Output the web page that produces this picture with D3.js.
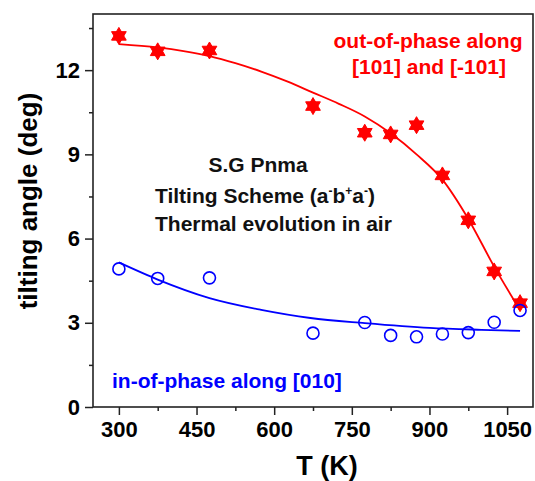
<!DOCTYPE html>
<html>
<head>
<meta charset="utf-8">
<script src="https://cdn.jsdelivr.net/npm/d3@7"></script>
<style>
  body { margin: 0; background: #fff; }
  svg { font-family: "Liberation Sans", Arial, sans-serif; font-weight: bold; }
</style>
</head>
<body>
<svg id="chart" width="535" height="481"></svg>
<script>
// measured points
var temps = [300, 375, 475, 675, 775, 825, 875, 925, 975, 1025, 1075];
var outPhase = [13.22, 12.67, 12.7, 10.72, 9.77, 9.71, 10.04, 8.25, 6.65, 4.83, 3.7];
var inPhase = [4.92, 4.58, 4.6, 2.63, 3.01, 2.55, 2.5, 2.6, 2.65, 3.02, 3.44];

// fit curves
var outFitT = [300, 375, 425, 475, 525, 575, 625, 675, 725, 775, 825, 875, 925, 975, 1025, 1075];
var outFitY = [12.93, 12.81, 12.68, 12.5, 12.25, 11.95, 11.6, 11.2, 10.8, 10.35, 9.75, 9.0, 8.1, 6.7, 5.0, 3.45];
var inFitT = [300, 375, 475, 575, 670, 775, 900, 1000, 1075];
var inFitY = [5.15, 4.54, 3.88, 3.46, 3.17, 2.99, 2.82, 2.75, 2.71];

var xTicks = [300, 450, 600, 750, 900, 1050];
var xMinor = [375, 525, 675, 825, 975];
var yTicks = [0, 3, 6, 9, 12];
var yMinor = [1.5, 4.5, 7.5, 10.5, 13.5];

var svg = d3.select('#chart');
var mLeft = 93, mRight = 533, mTop = 14, mBottom = 407;

var x = d3.scaleLinear().domain([250, 1100]).range([mLeft, mRight]);
var y = d3.scaleLinear().domain([0, 14]).range([mBottom, mTop]);

// axes
svg.append('g').attr('transform', 'translate(0,' + mBottom + ')')
   .call(d3.axisBottom(x).tickValues(xTicks).tickSize(8).tickPadding(6).tickFormat(d3.format('d')));
svg.append('g').attr('transform', 'translate(0,' + mBottom + ')')
   .call(d3.axisBottom(x).tickValues(xMinor).tickSize(4).tickFormat(''));
svg.append('g').attr('transform', 'translate(' + mLeft + ',0)')
   .call(d3.axisLeft(y).tickValues(yTicks).tickSize(8).tickPadding(5).tickFormat(d3.format('d')));
svg.append('g').attr('transform', 'translate(' + mLeft + ',0)')
   .call(d3.axisLeft(y).tickValues(yMinor).tickSize(4).tickFormat(''));

svg.selectAll('.domain').remove();
svg.selectAll('.tick line').attr('stroke', '#222').attr('stroke-width', 1.5);
svg.selectAll('.tick text').attr('fill', '#000').style('font-size', '22px').style('font-weight', 'bold')
   .style('font-family', '"Liberation Sans", Arial, sans-serif');

svg.append('rect').attr('x', mLeft).attr('y', mTop)
   .attr('width', mRight - mLeft).attr('height', mBottom - mTop)
   .attr('fill', 'none').attr('stroke', '#222').attr('stroke-width', 1.6);

// fit lines
var line = d3.line().curve(d3.curveMonotoneX)
   .x(function(d){ return x(d[0]); }).y(function(d){ return y(d[1]); });

svg.append('path').datum(d3.zip(outFitT, outFitY)).attr('d', line)
   .attr('fill', 'none').attr('stroke', '#ff0000').attr('stroke-width', 1.8);
svg.append('path').datum(d3.zip(inFitT, inFitY)).attr('d', line)
   .attr('fill', 'none').attr('stroke', '#0000ff').attr('stroke-width', 1.8);

// hexagram markers
function hexagram(r){
   var up = [], down = [];
   for (var i = 0; i < 3; i++) {
      var a1 = -Math.PI / 2 + i * 2 * Math.PI / 3;
      var a2 = Math.PI / 2 + i * 2 * Math.PI / 3;
      up.push([r * Math.cos(a1), r * Math.sin(a1)]);
      down.push([r * Math.cos(a2), r * Math.sin(a2)]);
   }
   return 'M' + up.join('L') + 'Z M' + down.join('L') + 'Z';
}

svg.append('g').selectAll('path').data(d3.zip(temps, outPhase)).enter().append('path')
   .attr('transform', function(d){ return 'translate(' + x(d[0]) + ',' + y(d[1]) + ')'; })
   .attr('d', hexagram(8.5))
   .attr('fill', '#ff0000').attr('stroke', '#ff0000').attr('stroke-width', 1)
   .attr('fill-rule', 'nonzero');

svg.append('g').selectAll('circle').data(d3.zip(temps, inPhase)).enter().append('circle')
   .attr('cx', function(d){ return x(d[0]); }).attr('cy', function(d){ return y(d[1]); })
   .attr('r', 6).attr('fill', 'none').attr('stroke', '#0000ff').attr('stroke-width', 1.6);

// labels
svg.append('text').attr('x', 428).attr('y', 48).attr('text-anchor', 'middle')
   .attr('fill', '#ff0000').style('font-size', '21px').text('out-of-phase along');
svg.append('text').attr('x', 429).attr('y', 74).attr('text-anchor', 'middle')
   .attr('fill', '#ff0000').style('font-size', '21px').text('[101] and [-101]');

svg.append('text').attr('x', 258).attr('y', 172).attr('text-anchor', 'middle')
   .attr('fill', '#111').style('font-size', '21px').text('S.G Pnma');
var ts = svg.append('text').attr('x', 155).attr('y', 203)
   .attr('fill', '#111').style('font-size', '21px');
ts.append('tspan').text('Tilting Scheme (a');
ts.append('tspan').attr('dy', -8).style('font-size', '12px').text('-');
ts.append('tspan').attr('dy', 8).text('b');
ts.append('tspan').attr('dy', -8).style('font-size', '12px').text('+');
ts.append('tspan').attr('dy', 8).text('a');
ts.append('tspan').attr('dy', -8).style('font-size', '12px').text('-');
ts.append('tspan').attr('dy', 8).text(')');
svg.append('text').attr('x', 155).attr('y', 231)
   .attr('fill', '#111').style('font-size', '21px').text('Thermal evolution in air');

svg.append('text').attr('x', 112).attr('y', 388)
   .attr('fill', '#0000ff').style('font-size', '21px').text('in-of-phase along [010]');

// axis titles
svg.append('text').attr('x', 327).attr('y', 475).attr('text-anchor', 'middle')
   .attr('fill', '#000').style('font-size', '27px').text('T (K)');
svg.append('text').attr('transform', 'translate(37,201) rotate(-90)').attr('text-anchor', 'middle')
   .attr('fill', '#000').style('font-size', '26px').text('tilting angle (deg)');
</script>
</body>
</html>
